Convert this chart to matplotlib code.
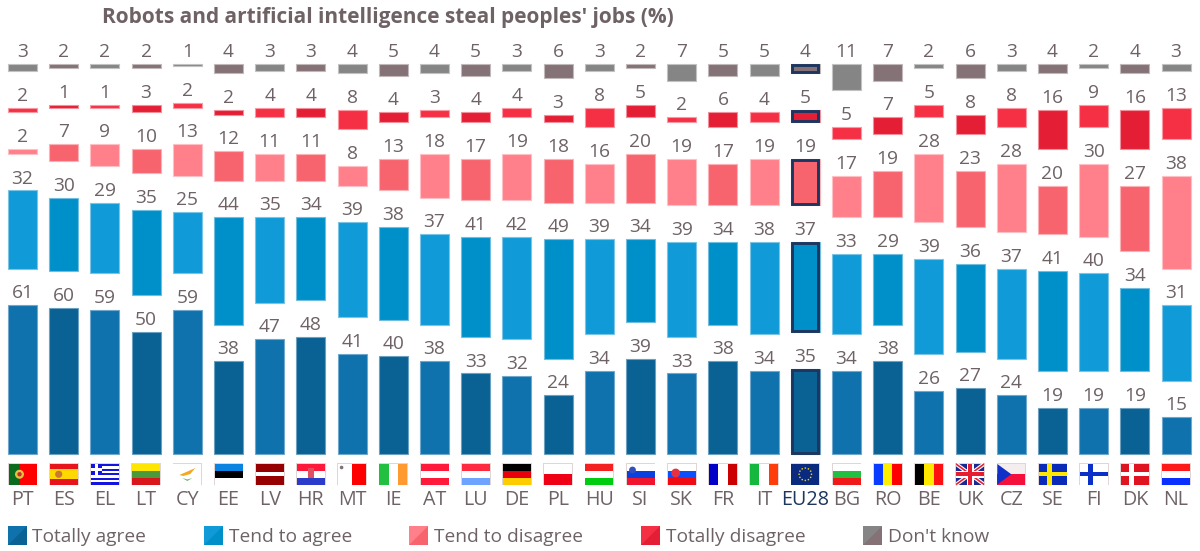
import matplotlib
matplotlib.use("Agg")
import matplotlib.pyplot as plt
from matplotlib.patches import Rectangle, Polygon, Circle
from matplotlib.transforms import Affine2D
import numpy as np

plt.rcParams['font.family'] = ['Open Sans', 'DejaVu Sans']

countries = ['PT', 'ES', 'EL', 'LT', 'CY', 'EE', 'LV', 'HR', 'MT', 'IE', 'AT', 'LU', 'DE', 'PL', 'HU',
             'SI', 'SK', 'FR', 'IT', 'EU28', 'BG', 'RO', 'BE', 'UK', 'CZ', 'SE', 'FI', 'DK', 'NL']
totally_agree = [61, 60, 59, 50, 59, 38, 47, 48, 41, 40, 38, 33, 32, 24, 34,
                 39, 33, 38, 34, 35, 34, 38, 26, 27, 24, 19, 19, 19, 15]
tend_agree = [32, 30, 29, 35, 25, 44, 35, 34, 39, 38, 37, 41, 42, 49, 39,
              34, 39, 34, 38, 37, 33, 29, 39, 36, 37, 41, 40, 34, 31]
tend_disagree = [2, 7, 9, 10, 13, 12, 11, 11, 8, 13, 18, 17, 19, 18, 16,
                 20, 19, 17, 19, 19, 17, 19, 28, 23, 28, 20, 30, 27, 38]
totally_disagree = [2, 1, 1, 3, 2, 2, 4, 4, 8, 4, 3, 4, 4, 3, 8,
                    5, 2, 6, 4, 5, 5, 7, 5, 8, 8, 16, 9, 16, 13]
dont_know = [3, 2, 2, 2, 1, 4, 3, 3, 4, 5, 4, 5, 3, 6, 3,
             2, 7, 5, 5, 4, 11, 7, 2, 6, 3, 4, 2, 4, 3]
legend_names = ['Totally agree', 'Tend to agree', 'Tend to disagree', 'Totally disagree', "Don't know"]

title = "Robots and artificial intelligence steal peoples' jobs (%)"
text_col = '#6e6265'
navy = '#1d3660'
gap = 15  # empty band between the answers

series = [totally_agree, tend_agree, tend_disagree, totally_disagree, dont_know]
light = ['#0f72ac', '#109bd8', '#ff808a', '#f53044', '#858585']
dark = ['#0a6194', '#0090c9', '#f7646e', '#e41e34', '#847276']
edge_l = ['#6fa8cc', '#7cc4e6', '#ffc0c5', '#fb98a2', '#c2c2c2']
edge_d = ['#6ca0c0', '#70bde0', '#fbb2b7', '#f28f9a', '#c1b8ba']

fig = plt.figure(figsize=(12, 5.51), dpi=100)
ax = fig.add_axes([0, 0, 1, 1])
step = 41.2
x0 = 22.5
scale = 2.44
base = 454
ax.set_xlim(-x0 / step, (1200 - x0) / step)
ax.set_ylim((base - 551) / scale, base / scale)
ax.axis('off')

# pixel coords of the picture, for flags and legend
px = Affine2D().scale(1, -1).translate(0, 551)

x = np.arange(len(countries))
bottom = np.zeros(len(countries))
for k, vals in enumerate(series):
    vals = np.array(vals)
    cols = [light[k] if i % 2 == 0 else dark[k] for i in x]
    edges = [edge_l[k] if i % 2 == 0 else edge_d[k] for i in x]
    ax.bar(x, vals, 0.7, bottom=bottom, color=cols, edgecolor=edges, linewidth=0.8)
    for i in x:
        ax.annotate(str(vals[i]), (i, bottom[i] + vals[i]), xytext=(0, 5), textcoords='offset points',
                    ha='center', va='baseline', fontsize=13.8, color=text_col)
        if countries[i] == 'EU28':
            # inner outline of the EU bar
            off = 1.4 / scale
            ax.add_patch(Rectangle((i - 0.35 + 1.4 / step, bottom[i] + off), 0.7 - 2.8 / step, vals[i] - 2 * off,
                                   fill=False, edgecolor=navy, linewidth=2.1, zorder=3))
    bottom = bottom + vals + gap


def rect(x1, y1, w, h, c, z=4):
    ax.add_patch(Rectangle((x1, y1), w, h, facecolor=c, edgecolor='none', transform=px, zorder=z))


def poly(pts, c, z=5):
    ax.add_patch(Polygon(pts, closed=True, facecolor=c, edgecolor='none', transform=px, zorder=z))


def stripes(fx, fy, fw, fh, cols, horiz=True, weights=None):
    if weights is None:
        weights = [1] * len(cols)
    pos = 0
    tot = sum(weights)
    for c, w in zip(cols, weights):
        if horiz:
            rect(fx, fy + fh * pos / tot, fw, fh * w / tot, c)
        else:
            rect(fx + fw * pos / tot, fy, fw * w / tot, fh, c)
        pos += w


def nordic(fx, fy, fw, fh, back, cross):
    rect(fx, fy, fw, fh, back)
    rect(fx + fw * 0.3, fy, fw * 0.17, fh, cross, 5)
    rect(fx, fy + fh * 0.4, fw, fh * 0.2, cross, 5)


def dot(cx, cy, r, c, z=6):
    ax.add_patch(Circle((cx, cy), r, facecolor=c, edgecolor='none', transform=px, zorder=z))


horizontal = {'LT': ['#ffe600', '#4a9a3c', '#d8161c'], 'EE': ['#0a84e0', '#000000', '#ffffff'],
              'AT': ['#ff1a3c', '#ffffff', '#ff1a3c'], 'LU': ['#ff2a40', '#ffffff', '#6ea4ff'],
              'DE': ['#000000', '#e8000c', '#ffcc00'], 'PL': ['#ffffff', '#f00014'],
              'HU': ['#f52020', '#ffffff', '#00cc10'], 'BG': ['#ffffff', '#22c040', '#f01818'],
              'NL': ['#ff1a1a', '#ffffff', '#0a30ff'], 'HR': ['#ff1a3c', '#ffffff', '#2a3cc8'],
              'SI': ['#ffffff', '#0a40e0', '#f0142c'], 'SK': ['#ffffff', '#0a50ff', '#f00a14']}
vertical = {'IE': ['#22c040', '#ffffff', '#ff9a30'], 'FR': ['#0000c8', '#ffffff', '#cc0000'],
            'IT': ['#14b83c', '#ffffff', '#ff3c0a'], 'RO': ['#0a3cff', '#ffee00', '#ff0000'],
            'BE': ['#000000', '#ffe800', '#ff1010']}

for i, c in enumerate(countries):
    fx = x0 + step * i - 14
    fy, fw, fh = 464, 28, 20.5
    rect(fx - 0.8, fy - 0.8, fw + 1.6, fh + 1.6, '#e0d6d6', 3)
    if c in horizontal:
        stripes(fx, fy, fw, fh, horizontal[c])
    elif c in vertical:
        stripes(fx, fy, fw, fh, vertical[c], horiz=False)
    elif c == 'PT':
        stripes(fx, fy, fw, fh, ['#0a6a1e', '#ff0000'], horiz=False, weights=[2, 3])
        dot(fx + 11, fy + fh / 2, 4.5, '#e8c040')
        dot(fx + 11, fy + fh / 2, 2.2, '#c03030')
    elif c == 'ES':
        stripes(fx, fy, fw, fh, ['#e8141c', '#ffd800', '#e8141c'], weights=[1, 2, 1])
        dot(fx + 9, fy + fh / 2, 3.6, '#c87830')
    elif c == 'EL':
        stripes(fx, fy, fw, fh, ['#1414e0', '#ffffff'] * 4 + ['#1414e0'])
        rect(fx, fy, 11, 11.4, '#1414e0', 5)
        rect(fx + 4.2, fy, 2.6, 11.4, '#ffffff', 6)
        rect(fx, fy + 4.4, 11, 2.4, '#ffffff', 6)
    elif c == 'CY':
        rect(fx, fy, fw, fh, '#ffffff')
        poly([(fx + 6, fy + 11), (fx + 13, fy + 8), (fx + 22, fy + 4), (fx + 17, fy + 10), (fx + 10, fy + 12)], '#f4a820')
        poly([(fx + 9, fy + 14), (fx + 14, fy + 17), (fx + 19, fy + 14), (fx + 14, fy + 15.5)], '#60b860')
    elif c == 'LV':
        stripes(fx, fy, fw, fh, ['#960000', '#ffffff', '#960000'], weights=[2, 1, 2])
    elif c == 'MT':
        stripes(fx, fy, fw, fh, ['#ffffff', '#ff0000'], horiz=False)
        dot(fx + 3.5, fy + 3.5, 1.8, '#807070')
    elif c == 'EU28':
        rect(fx, fy, fw, fh, '#0a2a80')
        for a in np.arange(0, 360, 30):
            dot(fx + fw / 2 + 6.2 * np.cos(np.radians(a)), fy + fh / 2 + 6.2 * np.sin(np.radians(a)), 0.8, '#e8d020')
    elif c == 'UK':
        rect(fx, fy, fw, fh, '#1a2a90')
        for a, b, w, col in [((fx, fy), (fx + fw, fy + fh), 2.4, '#ffffff'), ((fx, fy + fh), (fx + fw, fy), 2.4, '#ffffff'),
                             ((fx, fy), (fx + fw, fy + fh), 1.0, '#e81c30'), ((fx, fy + fh), (fx + fw, fy), 1.0, '#e81c30')]:
            poly([(a[0], a[1] - w), (a[0], a[1] + w), (b[0], b[1] + w), (b[0], b[1] - w)], col)
        rect(fx + 10.5, fy, 7, fh, '#ffffff', 6)
        rect(fx, fy + 6.8, fw, 7, '#ffffff', 6)
        rect(fx + 12, fy, 4, fh, '#e81c30', 7)
        rect(fx, fy + 8.2, fw, 4, '#e81c30', 7)
    elif c == 'CZ':
        stripes(fx, fy, fw, fh, ['#f4eeee', '#f5103c'])
        poly([(fx, fy), (fx + 14, fy + fh / 2), (fx, fy + fh)], '#1030c8')
    elif c == 'SE':
        nordic(fx, fy, fw, fh, '#0a2ab8', '#ffe800')
    elif c == 'FI':
        nordic(fx, fy, fw, fh, '#ffffff', '#0a30c8')
    elif c == 'DK':
        nordic(fx, fy, fw, fh, '#e01420', '#ffffff')
    if c == 'HR':
        rect(fx + 11, fy + 4, 6, 10, '#e05060', 6)
    if c == 'SI':
        dot(fx + 6, fy + 6, 3.4, '#3050c0')
    if c == 'SK':
        dot(fx + 8, fy + 9, 4.4, '#e83040')
    # country code under the flag
    ax.text(fx + fw / 2, 500, c, transform=px, ha='center', va='center', fontsize=14.2,
            color=navy if c == 'EU28' else text_col)

# legend squares, split on the diagonal
sq_x = [8, 204, 409, 641, 863]
tx_x = [32, 229, 434, 666, 888]
for k, name in enumerate(legend_names):
    sx = sq_x[k]
    rect(sx, 526, 19, 19, dark[k])
    poly([(sx, 526), (sx + 19, 526), (sx, 545)], light[k])
    ax.text(tx_x[k], 536.5, name, transform=px, ha='left', va='center', fontsize=13.75, color=text_col)

ax.text(102, 18, title, transform=px, ha='left', va='center', fontsize=15, fontweight='bold', color=text_col)

fig.savefig('out.png', dpi=100)
